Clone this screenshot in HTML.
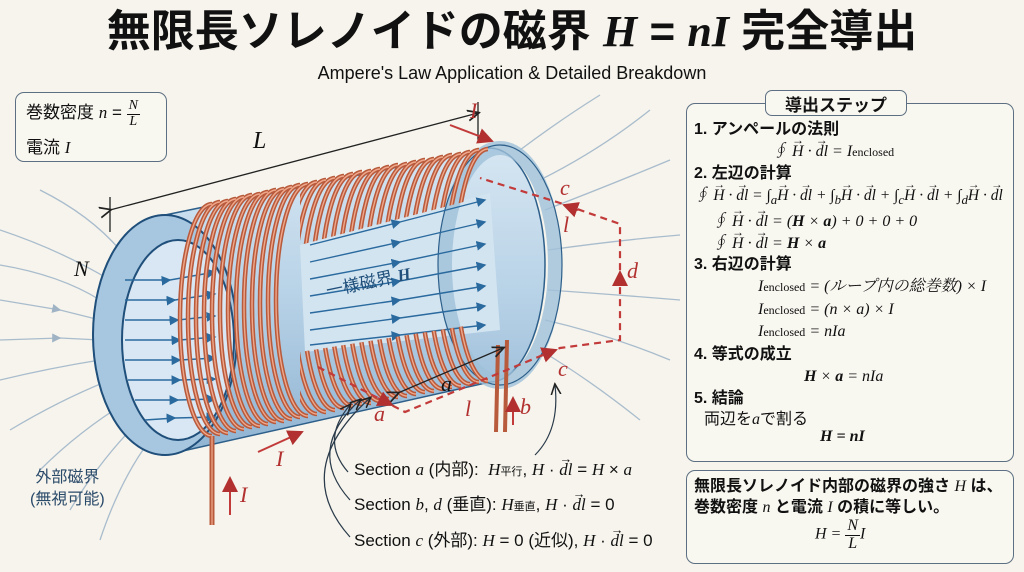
<!DOCTYPE html>
<html><head><meta charset="utf-8"><style>
body{margin:0;background:#f6f4ec;}
#w{position:relative;width:1024px;height:572px;overflow:hidden;background:#f6f4ec;font-family:"Liberation Sans","Noto Sans CJK JP",sans-serif;color:#111;}
.t{position:absolute;white-space:nowrap;}
.m{font-family:"Liberation Serif","Noto Serif CJK SC",serif;font-style:italic;}
.b{font-weight:bold;}
.box{position:absolute;border:1.5px solid #5d6f82;border-radius:9px;background:#f8f7f0;}
.frac{display:inline-block;vertical-align:middle;text-align:center;line-height:1;}
.frac span{display:block;}
.frac .n{border-bottom:1.3px solid #111;padding:0 2px 1px;}
.v{position:relative;display:inline-block;}
.v::before{content:"→";position:absolute;left:0;right:0;top:-0.55em;text-align:center;font-size:0.75em;font-style:normal;line-height:1;}
.eq div{white-space:nowrap;}
</style></head><body><div id="w">
<svg width="1024" height="572" style="position:absolute;left:0;top:0">
<defs>
<marker id="ab" markerWidth="8" markerHeight="8" refX="6" refY="4" orient="auto"><path d="M0,0.5 L7,4 L0,7.5 Z" fill="#2a6a9e"/></marker>
<marker id="ag" markerWidth="8" markerHeight="8" refX="6" refY="4" orient="auto"><path d="M0,0.5 L7,4 L0,7.5 Z" fill="#9fb3c5"/></marker>
<marker id="ak" markerWidth="10" markerHeight="10" refX="8" refY="5" orient="auto"><path d="M0,1 L9,5 L0,9" fill="none" stroke="#222" stroke-width="1.3"/></marker>
<marker id="ar" markerWidth="10" markerHeight="10" refX="7" refY="5" orient="auto"><path d="M0,1 L8,5 L0,9 Z" fill="#b23030"/></marker>
<path id="coil" d="M0,-116 A32,116 0 0 0 0,116" fill="none" stroke="#b85a3c" stroke-width="4.5"/>
<path id="coilh" d="M0,-116 A32,116 0 0 0 0,116" fill="none" stroke="#f0a88c" stroke-width="1.4"/>
<clipPath id="cut"><polygon points="300,0 640,0 640,195 490,195 300,245"/><polygon points="300,352 515,318 640,318 640,572 300,572"/></clipPath>
<linearGradient id="bg1" x1="0" y1="0" x2="0" y2="1"><stop offset="0" stop-color="#d6e6f2"/><stop offset="0.5" stop-color="#b6d1e6"/><stop offset="1" stop-color="#8fb3d2"/></linearGradient>
</defs>
<g stroke="#a9bccd" stroke-width="1.3" fill="none" marker-mid="url(#ag)">
<path d="M0,230 Q60,250 110,280"/><path d="M0,265 Q60,275 100,300"/><path d="M0,300 L60,310 L100,320"/>
<path d="M0,340 L60,338 L100,340"/><path d="M0,380 Q50,368 100,360"/><path d="M10,430 Q60,400 110,380"/>
<path d="M40,470 Q80,430 130,400"/><path d="M70,510 Q100,460 140,420"/><path d="M100,540 Q120,480 150,440"/>
<path d="M40,190 Q90,215 120,250"/>
<path d="M540,180 Q600,150 650,110"/><path d="M545,210 Q610,185 670,160"/><path d="M548,250 Q620,240 680,235"/>
<path d="M548,290 Q620,295 680,300"/><path d="M545,320 Q610,335 670,360"/><path d="M540,350 Q590,380 640,420"/>
<path d="M520,150 Q560,120 600,95"/>
</g>
<path d="M165,215 L490,148 A55,117 0 0 1 490,382 L165,455 A72,120 0 0 1 165,215 Z" fill="url(#bg1)" stroke="#2d5f8a" stroke-width="1.5"/>
<polygon points="300,245 490,193 500,330 305,352" fill="#d3e4f1"/>
<ellipse cx="500" cy="265" rx="55" ry="117" fill="none" stroke="#9fc0da" stroke-width="14" opacity="0.8"/>
<ellipse cx="500" cy="265" rx="62" ry="120" fill="none" stroke="#2d5f8a" stroke-width="1.2"/>
<ellipse cx="165" cy="335" rx="72" ry="120" fill="#a7c6e0" stroke="#1f4f7a" stroke-width="2"/>
<ellipse cx="178" cy="340" rx="56" ry="100" fill="#d8e7f3" stroke="#1f4f7a" stroke-width="2"/>
<g stroke="#2a6a9e" stroke-width="1.4" fill="none" marker-mid="url(#ab)" marker-end="url(#ab)">
<path d="M125,280 L170,280 L215,272"/><path d="M125,300 L175,300 L215,294"/><path d="M125,320 L178,320 L215,316"/>
<path d="M125,340 L180,340 L215,337"/><path d="M125,360 L180,360 L215,358"/><path d="M128,380 L180,380 L215,379"/>
<path d="M135,400 L178,400 L215,399"/><path d="M145,420 L175,418 L215,417"/>
<path d="M310,245 L400,222 L485,200"/><path d="M310,262 L400,242 L485,222"/><path d="M310,279 L400,262 L485,244"/>
<path d="M310,296 L400,281 L485,265"/><path d="M310,313 L400,300 L485,286"/><path d="M310,330 L400,318 L485,306"/>
<path d="M310,345 L400,335 L485,325"/>
</g>
<g>
<use href="#coil" x="212" y="320"/><use href="#coil" x="220" y="318"/><use href="#coil" x="228" y="317"/><use href="#coil" x="236" y="315"/><use href="#coil" x="244" y="313"/><use href="#coil" x="252" y="311"/><use href="#coil" x="260" y="310"/><use href="#coil" x="268" y="308"/><use href="#coil" x="276" y="306"/><use href="#coil" x="284" y="305"/><use href="#coil" x="292" y="303"/><use href="#coil" x="300" y="301"/><use href="#coil" x="308" y="300"/>
<use href="#coilh" x="212" y="320"/><use href="#coilh" x="220" y="318"/><use href="#coilh" x="228" y="317"/><use href="#coilh" x="236" y="315"/><use href="#coilh" x="244" y="313"/><use href="#coilh" x="252" y="311"/><use href="#coilh" x="260" y="310"/><use href="#coilh" x="268" y="308"/><use href="#coilh" x="276" y="306"/><use href="#coilh" x="284" y="305"/><use href="#coilh" x="292" y="303"/><use href="#coilh" x="300" y="301"/><use href="#coilh" x="308" y="300"/>
</g>
<g clip-path="url(#cut)">
<use href="#coil" x="317" y="298"/><use href="#coil" x="326" y="296"/><use href="#coil" x="335" y="294"/><use href="#coil" x="344" y="292"/><use href="#coil" x="353" y="290"/><use href="#coil" x="362" y="288"/><use href="#coil" x="371" y="287"/><use href="#coil" x="380" y="285"/><use href="#coil" x="389" y="283"/><use href="#coil" x="398" y="281"/><use href="#coil" x="407" y="280"/><use href="#coil" x="416" y="278"/><use href="#coil" x="425" y="276"/><use href="#coil" x="434" y="275"/><use href="#coil" x="443" y="273"/><use href="#coil" x="452" y="271"/><use href="#coil" x="461" y="270"/><use href="#coil" x="470" y="268"/><use href="#coil" x="479" y="266"/><use href="#coil" x="488" y="265"/>
<use href="#coilh" x="317" y="298"/><use href="#coilh" x="326" y="296"/><use href="#coilh" x="335" y="294"/><use href="#coilh" x="344" y="292"/><use href="#coilh" x="353" y="290"/><use href="#coilh" x="362" y="288"/><use href="#coilh" x="371" y="287"/><use href="#coilh" x="380" y="285"/><use href="#coilh" x="389" y="283"/><use href="#coilh" x="398" y="281"/><use href="#coilh" x="407" y="280"/><use href="#coilh" x="416" y="278"/><use href="#coilh" x="425" y="276"/><use href="#coilh" x="434" y="275"/><use href="#coilh" x="443" y="273"/><use href="#coilh" x="452" y="271"/><use href="#coilh" x="461" y="270"/><use href="#coilh" x="470" y="268"/><use href="#coilh" x="479" y="266"/><use href="#coilh" x="488" y="265"/>
</g>
<path d="M212,436 L212,525" stroke="#b85a3c" stroke-width="5" fill="none"/>
<path d="M212,436 L212,525" stroke="#eea388" stroke-width="1.3" fill="none"/>
<path d="M498,345 L496,432 M507,340 L505,432" stroke="#b85a3c" stroke-width="4" fill="none"/>
<line x1="110" y1="210" x2="478" y2="113" stroke="#222" stroke-width="1.3" marker-start="url(#ak)" marker-end="url(#ak)"/>
<line x1="110" y1="197" x2="110" y2="232" stroke="#222" stroke-width="1.3"/>
<line x1="478" y1="102" x2="478" y2="140" stroke="#222" stroke-width="1.3"/>
<line x1="398" y1="393" x2="503" y2="348" stroke="#222" stroke-width="1.3" marker-start="url(#ak)" marker-end="url(#ak)"/>
<g stroke="#c23a3a" stroke-width="2.2" fill="none" stroke-dasharray="7,5">
<path d="M318,367 L405,412 L560,348 L620,340 L620,224 L560,203 L480,178"/>
</g>
<g stroke="#c23a3a" stroke-width="2" fill="none">
<line x1="378" y1="398" x2="392" y2="405" marker-end="url(#ar)"/>
<line x1="540" y1="356" x2="556" y2="350" marker-end="url(#ar)"/>
<line x1="620" y1="285" x2="620" y2="272" marker-end="url(#ar)"/>
<line x1="578" y1="210" x2="564" y2="205" marker-end="url(#ar)"/>
<line x1="450" y1="125" x2="492" y2="141" marker-end="url(#ar)"/>
<line x1="258" y1="452" x2="302" y2="432" marker-end="url(#ar)"/>
<line x1="230" y1="515" x2="230" y2="478" marker-end="url(#ar)"/>
<line x1="513" y1="425" x2="513" y2="398" marker-end="url(#ar)"/>
</g>
<g stroke="#2a3a4a" stroke-width="1.2" fill="none" marker-end="url(#ak)">
<path d="M348,472 Q320,440 350,405"/><path d="M350,500 Q305,450 360,400"/><path d="M350,537 Q290,470 370,398"/>
<path d="M535,455 Q560,430 555,385"/>
</g>
</svg>

<div class="t b" style="left:0;width:1024px;text-align:center;top:6px;font-size:44px;line-height:52px;">無限長ソレノイドの磁界 <span class="m">H</span> = <span class="m">nI</span> 完全導出</div>
<div class="t" style="left:0;width:1024px;text-align:center;top:63px;font-size:18px;">Ampere's Law Application &amp; Detailed Breakdown</div>

<div class="box" style="left:15px;top:92px;width:150px;height:68px;"></div>
<div class="t" style="left:26px;top:98px;font-size:17px;">巻数密度 <span class="m">n</span> = <span class="frac m" style="font-size:14px"><span class="n">N</span><span>L</span></span></div>
<div class="t" style="left:26px;top:133px;font-size:17px;">電流 <span class="m">I</span></div>

<div class="t m" style="left:253px;top:128px;font-size:24px;">L</div>
<div class="t m" style="left:74px;top:256px;font-size:22px;">N</div>
<div class="t m" style="left:470px;top:98px;font-size:22px;color:#b23030;">I</div>
<div class="t" style="left:325px;top:268px;font-size:17px;color:#1f4f7a;transform:rotate(-12deg);">一様磁界 <span class="m b">H</span></div>
<div class="t m" style="left:560px;top:175px;font-size:22px;color:#b23030;">c</div>
<div class="t m" style="left:563px;top:212px;font-size:22px;color:#b23030;">l</div>
<div class="t m" style="left:627px;top:258px;font-size:22px;color:#b23030;">d</div>
<div class="t m" style="left:558px;top:356px;font-size:22px;color:#b23030;">c</div>
<div class="t m" style="left:465px;top:396px;font-size:22px;color:#b23030;">l</div>
<div class="t m" style="left:520px;top:394px;font-size:22px;color:#b23030;">b</div>
<div class="t m" style="left:374px;top:401px;font-size:22px;color:#b23030;">a</div>
<div class="t m" style="left:441px;top:371px;font-size:22px;">a</div>
<div class="t m" style="left:276px;top:446px;font-size:22px;color:#b23030;">I</div>
<div class="t m" style="left:240px;top:482px;font-size:22px;color:#b23030;">I</div>

<div class="t" style="left:30px;top:467px;font-size:16px;color:#2a4a6a;line-height:22px;text-align:center;">外部磁界<br>(無視可能)</div>

<div class="t" style="left:354px;top:455px;font-size:17px;">Section <span class="m">a</span> (内部):&nbsp; <span class="m">H</span><span style="font-size:11px">平行</span>, <span class="m">H</span> · <span class="m v">dl</span> = <span class="m">H</span> × <span class="m">a</span></div>
<div class="t" style="left:354px;top:490px;font-size:17px;">Section <span class="m">b</span>, <span class="m">d</span> (垂直): <span class="m">H</span><span style="font-size:11px">垂直</span>, <span class="m">H</span> · <span class="m v">dl</span> = 0</div>
<div class="t" style="left:354px;top:526px;font-size:17px;">Section <span class="m">c</span> (外部): <span class="m">H</span> = 0 (近似), <span class="m">H</span> · <span class="m v">dl</span> = 0</div>

<div class="box" style="left:686px;top:103px;width:326px;height:357px;"></div>
<div class="box" style="left:765px;top:90px;width:140px;height:24px;border-radius:7px;"></div>
<div class="t b" style="left:765px;top:91px;width:142px;text-align:center;font-size:17px;">導出ステップ</div>
<div class="eq" style="position:absolute;left:694px;top:119px;font-size:16px;line-height:21.7px;">
<div class="b">1. アンペールの法則</div>
<div class="m" style="padding-left:78px;">∮ <span class="v">H</span> · <span class="v">dl</span> = I<span style="font-style:normal;font-size:12px">enclosed</span></div>
<div class="b">2. 左辺の計算</div>
<div class="m" style="font-size:15.5px;">∮ <span class="v">H</span> · <span class="v">dl</span> = ∫<sub>a</sub><span class="v">H</span> · <span class="v">dl</span> + ∫<sub>b</sub><span class="v">H</span> · <span class="v">dl</span> + ∫<sub>c</sub><span class="v">H</span> · <span class="v">dl</span> + ∫<sub>d</sub><span class="v">H</span> · <span class="v">dl</span></div>
<div class="m" style="padding-left:18px;">∮ <span class="v">H</span> · <span class="v">dl</span> = (<b>H</b> × <b>a</b>) + 0 + 0 + 0</div>
<div class="m" style="padding-left:18px;">∮ <span class="v">H</span> · <span class="v">dl</span> = <b>H</b> × <b>a</b></div>
<div class="b">3. 右辺の計算</div>
<div class="m" style="padding-left:64px;">I<span style="font-style:normal;font-size:12px">enclosed</span> = (ループ内の総巻数) × I</div>
<div class="m" style="padding-left:64px;">I<span style="font-style:normal;font-size:12px">enclosed</span> = (n × a) × I</div>
<div class="m" style="padding-left:64px;">I<span style="font-style:normal;font-size:12px">enclosed</span> = nIa</div>
<div class="b">4. 等式の成立</div>
<div class="m" style="padding-left:110px;"><b>H</b> × <b>a</b> = nIa</div>
<div class="b">5. 結論</div>
<div style="padding-left:10px;">両辺を<span class="m">a</span>で割る</div>
<div class="m b" style="padding-left:126px;margin-top:-5px">H = nI</div>
</div>

<div class="box" style="left:686px;top:470px;width:326px;height:92px;"></div>
<div class="t b" style="left:694px;top:476px;font-size:16px;line-height:21px;">無限長ソレノイド内部の磁界の強さ <span class="m" style="font-weight:normal">H</span> は、<br>巻数密度 <span class="m" style="font-weight:normal">n</span> と電流 <span class="m" style="font-weight:normal">I</span> の積に等しい。</div>
<div class="t m" style="left:815px;top:518px;font-size:16px;">H = <span class="frac"><span class="n">N</span><span>L</span></span>I</div>
</div></body></html>
